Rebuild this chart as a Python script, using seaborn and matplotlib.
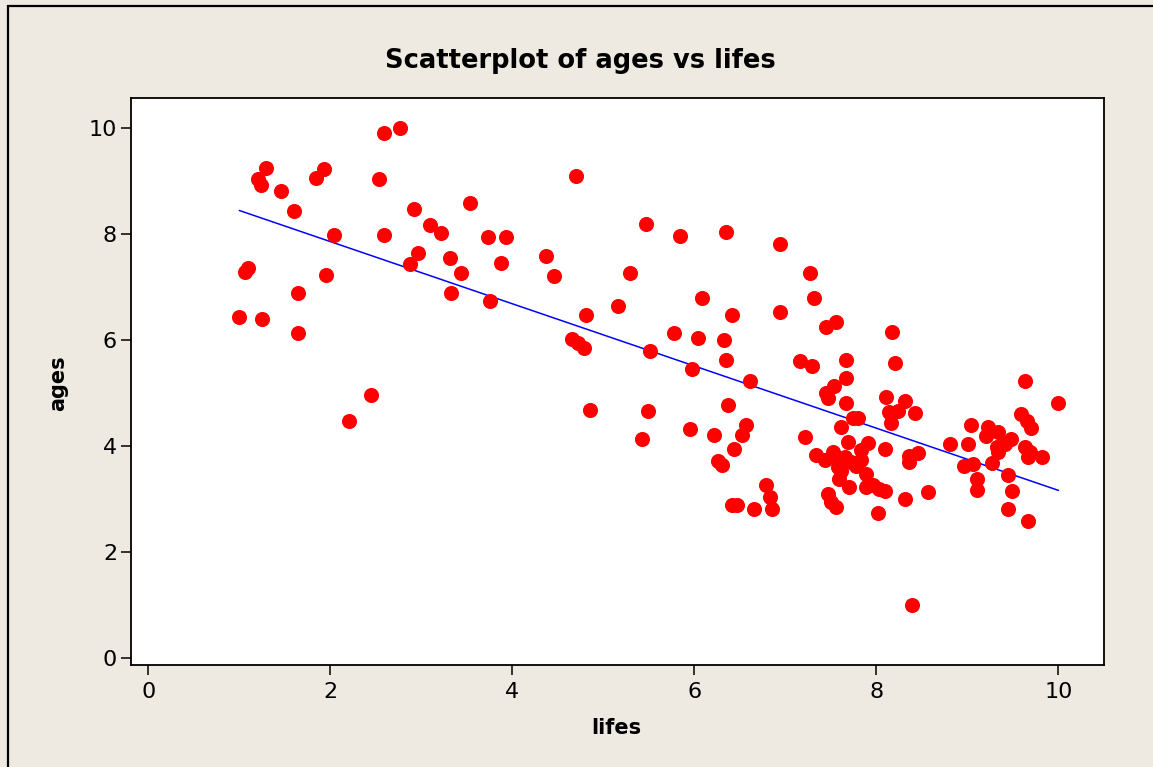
import numpy as np
import pandas as pd
import matplotlib
matplotlib.use("Agg")
import matplotlib.pyplot as plt
import seaborn as sns
from matplotlib.patches import Rectangle

# values
lifes = [1.00, 1.06, 1.09, 1.25, 1.20, 1.24, 1.29, 1.46, 1.60, 1.64, 1.64, 1.84, 1.93, 1.95,
         2.04, 2.21, 2.45, 2.54, 2.59, 2.59, 2.76, 2.87, 2.92, 2.96, 3.09, 3.22, 3.31, 3.33,
         3.44, 3.53, 3.73, 3.75, 3.88, 3.93,
         4.37, 4.46, 4.70, 4.65, 4.72, 4.79, 4.81, 4.85, 5.16, 5.29, 5.42, 5.47, 5.49, 5.51,
         5.78, 5.84, 5.95, 5.97, 6.04, 6.08, 6.22, 6.26, 6.30, 6.33, 6.35, 6.35, 6.37, 6.41,
         6.41, 6.44, 6.47, 6.52, 6.57, 6.61, 6.66, 6.79, 6.83, 6.85, 6.94, 6.94, 7.16, 7.21,
         7.27, 7.29, 7.31, 7.34,
         7.43, 7.45, 7.45, 7.47, 7.47, 7.50, 7.52, 7.53, 7.56, 7.56, 7.58, 7.58, 7.59, 7.61,
         7.61, 7.65, 7.67, 7.67, 7.67, 7.69, 7.70, 7.72, 7.74, 7.78, 7.80, 7.83, 7.83, 7.89,
         7.89, 7.91, 7.96, 8.02, 8.03, 8.09, 8.09, 8.11, 8.14, 8.16, 8.17, 8.20, 8.24, 8.31,
         8.31, 8.36, 8.36, 8.39, 8.42, 8.46, 8.57,
         8.81, 8.96, 9.01, 9.04, 9.06, 9.10, 9.10, 9.20, 9.23, 9.27, 9.32, 9.34, 9.34, 9.41,
         9.45, 9.45, 9.48, 9.49, 9.59, 9.63, 9.63, 9.65, 9.66, 9.67, 9.69, 9.70, 9.82, 10.00]

ages = [6.43, 7.29, 7.37, 6.40, 9.04, 8.93, 9.25, 8.81, 8.44, 6.89, 6.14, 9.06, 9.23, 7.23,
        7.98, 4.48, 4.97, 9.04, 9.91, 7.98, 10.00, 7.44, 8.47, 7.65, 8.17, 8.02, 7.55, 6.89,
        7.27, 8.59, 7.95, 6.74, 7.46, 7.95,
        7.59, 7.22, 9.10, 6.02, 5.94, 5.85, 6.47, 4.69, 6.65, 7.26, 4.13, 8.20, 4.66, 5.79,
        6.13, 7.97, 4.32, 5.45, 6.05, 6.80, 4.21, 3.72, 3.64, 6.01, 5.63, 8.05, 4.77, 6.47,
        2.89, 3.94, 2.89, 4.21, 4.39, 5.22, 2.81, 3.26, 3.04, 2.81, 6.54, 7.82, 5.60, 4.17,
        7.26, 5.52, 6.80, 3.83,
        3.73, 5.00, 6.24, 4.91, 3.10, 2.94, 3.89, 5.14, 6.35, 2.85, 3.73, 3.61, 3.38, 4.37,
        3.54, 3.79, 5.63, 5.29, 4.82, 4.08, 3.23, 3.70, 4.54, 3.63, 4.54, 3.92, 3.73, 3.48,
        3.23, 4.06, 3.26, 2.74, 3.20, 3.16, 3.94, 4.92, 4.64, 4.43, 6.16, 5.56, 4.66, 4.85,
        3.01, 3.82, 3.70, 1.00, 4.62, 3.87, 3.13,
        4.04, 3.63, 4.04, 4.39, 3.67, 3.38, 3.18, 4.20, 4.36, 3.68, 3.98, 4.26, 3.89, 4.04,
        3.46, 2.81, 4.14, 3.15, 4.61, 5.22, 3.98, 4.48, 3.79, 2.59, 3.89, 4.34, 3.79, 4.81]

x_ticks = [0, 2, 4, 6, 8, 10]
y_ticks = [0, 2, 4, 6, 8, 10]

df = pd.DataFrame({"lifes": lifes, "ages": ages})

sns.set_style("ticks")
plt.rcParams["font.family"] = ["DejaVu Sans"]
plt.rcParams["text.color"] = "black"
plt.rcParams["axes.labelcolor"] = "black"

bg = "#EEEAE1"
fig = plt.figure(figsize=(11.53, 7.67), dpi=100, facecolor=bg)
ax = fig.add_axes([131 / 1153, 1 - 665 / 767, (1104 - 131) / 1153, (665 - 98) / 767])
ax.set_facecolor("white")

sns.regplot(data=df, x="lifes", y="ages", ax=ax, ci=None, truncate=True,
            scatter_kws=dict(s=118, color="#FF0000", linewidths=0, alpha=1, zorder=3),
            line_kws=dict(color="#0000FF", lw=1.1, zorder=2))

ax.set_xlim(-0.19, 10.5)
ax.set_ylim(-0.13, 10.57)
ax.set_xticks(x_ticks)
ax.set_yticks(y_ticks)
ax.tick_params(axis="both", direction="out", length=7, width=1.1, labelsize=16,
               colors="black")
ax.tick_params(axis="x", pad=5)
ax.tick_params(axis="y", pad=3)
for sp in ax.spines.values():
    sp.set_visible(True)
    sp.set_linewidth(1.3)
    sp.set_color("black")

ax.set_xlabel("lifes", fontsize=15, fontweight="bold", va="center")
ax.set_ylabel("ages", fontsize=15, fontweight="bold", va="center")
ax.xaxis.set_label_coords(0.4985, -0.111)
ax.yaxis.set_label_coords(-0.075, 0.497)

fig.text(0.503, 1 - 61 / 767, "Scatterplot of ages vs lifes", fontsize=18.5,
         fontweight="bold", ha="center", va="center", color="black")

# outer frame (only left and top edges show in the reference)
fig.patches.append(Rectangle((8 / 1153, -0.1), 2, 1.1 - 6 / 767, transform=fig.transFigure,
                             fill=False, edgecolor="black", lw=1.6))

fig.savefig("out.png", dpi=100, facecolor=bg)
